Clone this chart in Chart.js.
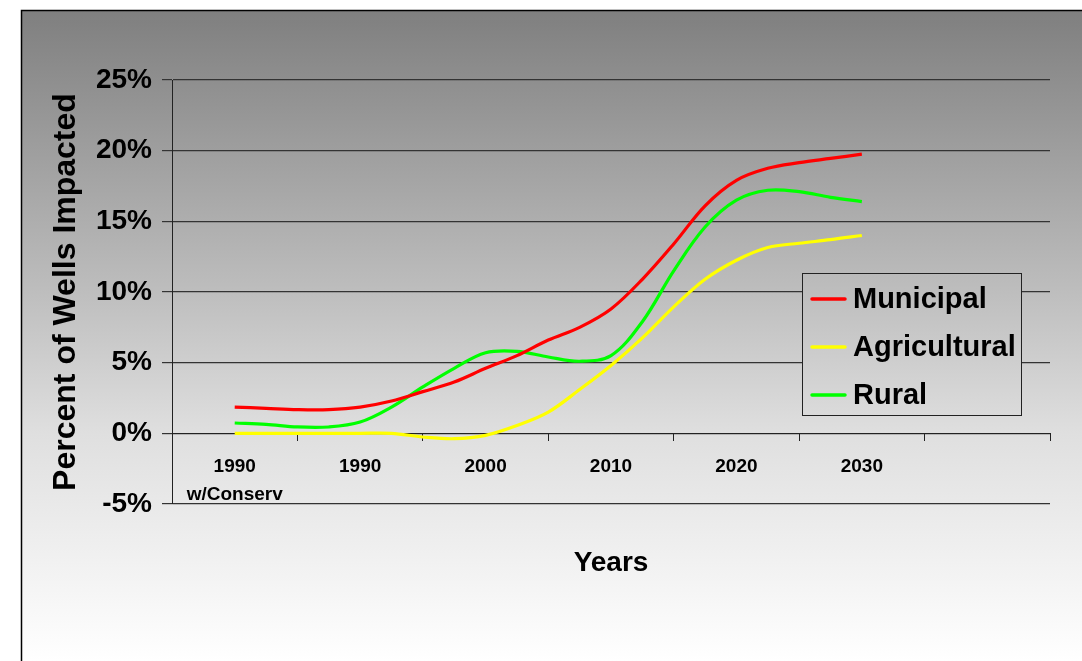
<!DOCTYPE html>
<html>
<head>
<meta charset="utf-8">
<script src="https://cdn.jsdelivr.net/npm/chart.js@4.4.1/dist/chart.umd.min.js"></script>
<style>
  html, body { margin: 0; padding: 0; background: #fff; }
  #wrap { width: 1082px; height: 661px; }
</style>
</head>
<body>
<div id="wrap"><canvas id="wells"></canvas></div>
<script>
// categories on the x axis (one per slot, last slot is empty)
const xLabels = [['1990', 'w/Conserv'], '1990', '2000', '2010', '2020', '2030', ''];
// sample positions along the category axis (quarter steps)
const xPos = [0, 0.25, 0.5, 0.75, 1, 1.25, 1.5, 1.75, 2, 2.25, 2.5, 2.75, 3, 3.25, 3.5, 3.75, 4, 4.25, 4.5, 4.75, 5];

const municipal = [1.86, 1.77, 1.68, 1.68, 1.86, 2.29, 2.95, 3.63, 4.6, 5.5, 6.6, 7.5, 8.8, 10.9, 13.4, 16.1, 17.9, 18.75, 19.15, 19.45, 19.75];
const agricultural = [0, 0, 0, 0, 0, 0, -0.26, -0.38, -0.14, 0.55, 1.5, 3.1, 4.8, 6.75, 8.95, 10.9, 12.25, 13.15, 13.45, 13.7, 14.0];
const rural = [0.73, 0.64, 0.45, 0.45, 0.8, 1.86, 3.28, 4.6, 5.7, 5.8, 5.4, 5.1, 5.5, 7.9, 11.5, 14.6, 16.5, 17.2, 17.1, 16.7, 16.4];

const yTicks = [-5, 0, 5, 10, 15, 20, 25];

const FONT = "'Liberation Sans', Arial, sans-serif";

function pts(values) {
  return values.map((v, i) => ({ x: xPos[i], y: v }));
}

function makeGradient(ctx) {
  const g = ctx.createLinearGradient(0, 10, 0, 661);
  g.addColorStop(0, '#7f7f7f');
  g.addColorStop(0.415, '#bbbbbb');
  g.addColorStop(0.65, '#dfdfdf');
  g.addColorStop(1, '#ffffff');
  return g;
}

// grey gradient panel behind everything
const backdrop = {
  id: 'backdrop',
  beforeDraw(chart) {
    const ctx = chart.ctx;
    ctx.save();
    ctx.fillStyle = '#ffffff';
    ctx.fillRect(0, 0, chart.width, chart.height);
    ctx.fillStyle = makeGradient(ctx);
    ctx.fillRect(21, 10, chart.width, chart.height);
    ctx.strokeStyle = '#000';
    ctx.lineWidth = 1.5;
    ctx.beginPath();
    ctx.moveTo(21.5, chart.height);
    ctx.lineTo(21.5, 10.5);
    ctx.lineTo(chart.width, 10.5);
    ctx.stroke();
    ctx.restore();
  }
};

// boxed legend inside the plot, like the Excel original
const boxLegend = {
  id: 'boxLegend',
  afterDatasetsDraw(chart) {
    const ctx = chart.ctx;
    const bx = 802, by = 273, bw = 219, bh = 142;
    ctx.save();
    ctx.fillStyle = makeGradient(ctx);
    ctx.fillRect(bx, by, bw, bh);
    ctx.strokeStyle = '#222';
    ctx.lineWidth = 1;
    ctx.strokeRect(bx + 0.5, by + 0.5, bw, bh);
    ctx.font = 'bold 29px ' + FONT;
    ctx.textBaseline = 'middle';
    ctx.fillStyle = '#000';
    chart.data.datasets.forEach((ds, i) => {
      const cy = 299 + i * 48;
      ctx.strokeStyle = ds.borderColor;
      ctx.lineWidth = 3.5;
      ctx.lineCap = 'round';
      ctx.beginPath();
      ctx.moveTo(812, cy);
      ctx.lineTo(845, cy);
      ctx.stroke();
      ctx.fillText(ds.label, 853, cy + 1);
    });
    ctx.restore();
  }
};

new Chart(document.getElementById('wells'), {
  type: 'line',
  data: {
    datasets: [
      { label: 'Municipal', data: pts(municipal), borderColor: '#ff0000' },
      { label: 'Agricultural', data: pts(agricultural), borderColor: '#ffff00' },
      { label: 'Rural', data: pts(rural), borderColor: '#00ff00' }
    ]
  },
  options: {
    responsive: true,
    maintainAspectRatio: false,
    animation: false,
    layout: { padding: { left: 22, top: 80, right: 32, bottom: 157 } },
    elements: {
      line: { borderWidth: 3.2, tension: 0.35 },
      point: { radius: 0 }
    },
    plugins: {
      legend: { display: false },
      tooltip: { enabled: false }
    },
    scales: {
      x: {
        type: 'linear',
        position: { y: 0 },
        min: -0.5,
        max: 6.5,
        afterBuildTicks(scale) {
          scale.ticks = xLabels.map((_, i) => ({ value: i }));
        },
        ticks: {
          callback: (v) => xLabels[v],
          font: { family: FONT, size: 19, weight: 'bold', lineHeight: 1.5 },
          color: '#000',
          padding: 12,
          maxRotation: 0,
          autoSkip: false
        },
        grid: { offset: true, drawOnChartArea: false, drawTicks: true, tickLength: 7, color: '#222', lineWidth: 1 },
        border: { display: true, color: '#222', width: 1 },
        title: {
          display: true,
          text: 'Years',
          color: '#000',
          font: { family: FONT, size: 28, weight: 'bold' },
          padding: { top: 25, bottom: 0 }
        }
      },
      y: {
        min: -5,
        max: 25,
        afterBuildTicks(scale) {
          scale.ticks = yTicks.map((v) => ({ value: v }));
        },
        afterFit(scale) { scale.width = 150; },
        ticks: {
          callback: (v) => v + '%',
          font: { family: FONT, size: 28, weight: 'bold' },
          color: '#000',
          padding: 10
        },
        grid: { color: '#333', lineWidth: 1.2, tickLength: 10 },
        border: { display: true, color: '#222', width: 1 },
        title: {
          display: true,
          text: 'Percent of Wells Impacted',
          color: '#000',
          font: { family: FONT, size: 32, weight: 'bold' },
          padding: { top: 25, bottom: 0 }
        }
      }
    }
  },
  plugins: [backdrop, boxLegend]
});
</script>
</body>
</html>
